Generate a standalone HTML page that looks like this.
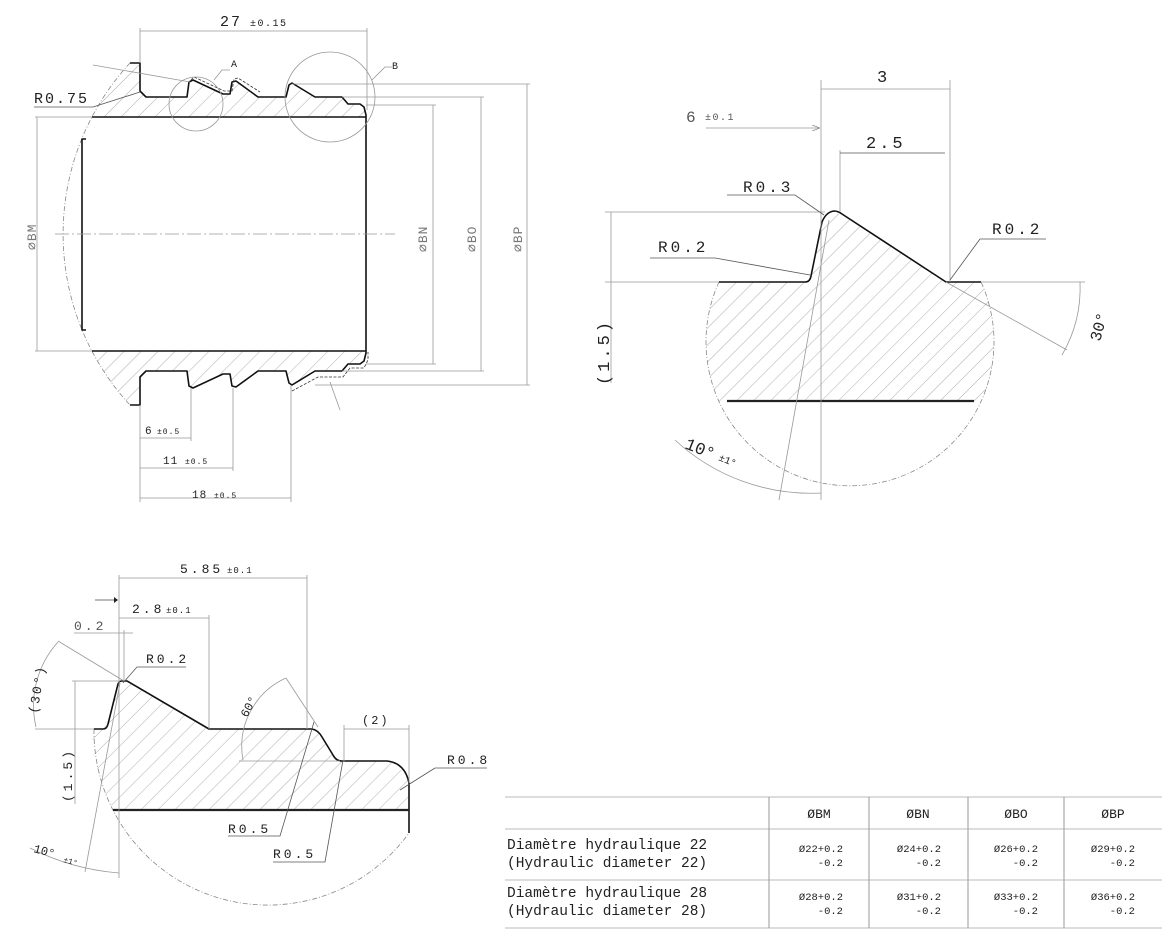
<!DOCTYPE html>
<html><head><meta charset="utf-8"><style>
html,body{margin:0;padding:0;background:#fff;}
svg{display:block;}
text{font-family:"Liberation Mono","DejaVu Sans Mono",monospace;fill:#222;}
.t{stroke:#111;stroke-width:1.6;fill:none;stroke-linejoin:round;}
.th{stroke:#222;stroke-width:2.2;fill:none;}
.d{stroke:#999;stroke-width:0.8;fill:none;}
.dk{stroke:#555;stroke-width:0.8;fill:none;}
.ds{stroke:#888;stroke-width:0.8;fill:none;stroke-dasharray:5 2 1 2;}
.cl{stroke:#999;stroke-width:0.8;fill:none;stroke-dasharray:14 3 2 3;}
</style></head><body>
<svg width="1167" height="940" viewBox="0 0 1167 940" xmlns="http://www.w3.org/2000/svg">
<defs>
<pattern id="h" patternUnits="userSpaceOnUse" width="12" height="12" patternTransform="rotate(45)">
<line x1="0" y1="0" x2="0" y2="12" stroke="#999" stroke-width="0.8"/>
</pattern>
<clipPath id="c1"><circle cx="315" cy="234" r="252"/></clipPath>
<clipPath id="c2"><circle cx="850" cy="343" r="144"/></clipPath>
<clipPath id="c3"><circle cx="266" cy="726" r="174"/></clipPath>
<marker id="ar" markerWidth="8" markerHeight="6" refX="8" refY="3" orient="auto" markerUnits="userSpaceOnUse"><path d="M0,0 L8,3 L0,6" fill="none" stroke="#888" stroke-width="0.8"/></marker>
</defs>

<!-- ===== MAIN PART ===== -->
<g clip-path="url(#c1)">
<path fill="url(#h)" d="M60,63 L140,63 L140,91 L146,97 L187,97 L189,82 L193,80 L223,94 L230,94 L232,82 L236,81 L258,97 L286,97 L289,85 L292,83 L315,97 L342,97 L348,104 L360,104 L364,107 L366,115 L366,117 L60,117 Z"/>
<path fill="url(#h)" d="M60,405 L140,405 L140,377 L146,371 L187,371 L189,386 L193,388 L223,374 L230,374 L232,386 L236,387 L258,371 L286,371 L289,383 L292,385 L315,371 L342,371 L348,364 L360,364 L364,361 L366,353 L366,351 L60,351 Z"/>
</g>
<path class="ds" d="M130,63 A252,252 0 0 0 130,405"/>
<path class="t" d="M130,63 L140,63 L140,91 L146,97 L187,97 L189,82 L193,80 L223,94 L230,94 L232,82 L236,81 L258,97 L286,97 L289,85 L292,83 L315,97 L342,97 L348,104 L360,104 L364,107 L366,115 L366,353 L364,361 L360,364 L348,364 L342,371 L315,371 L292,385 L289,383 L286,371 L258,371 L236,387 L232,386 L230,374 L223,374 L193,388 L189,386 L187,371 L146,371 L140,377 L140,405 L130,405"/>
<line class="t" x1="92" y1="117" x2="366" y2="117"/>
<line class="t" x1="92" y1="351" x2="366" y2="351"/>
<path class="t" d="M86,139 L82,139 L82,330 L86,330"/>
<line class="cl" x1="55" y1="234" x2="395" y2="234"/>
<path d="M191,80 L194,77 L224,91 L232,91 L234,79 L238,78 L260,92" stroke="#333" stroke-width="0.8" fill="none" stroke-dasharray="3 1.5"/>
<path d="M292,391 L318,377 L343,377 L350,368 L364,368 L368,360 L368,352" stroke="#333" stroke-width="0.8" fill="none" stroke-dasharray="3 1.5"/>
<circle class="d" cx="196" cy="104" r="27"/>
<circle class="d" cx="330" cy="97" r="45"/>
<path class="d" d="M214,80 L222,70 L230,70"/>
<text x="231" y="67" font-size="10">A</text>
<path class="d" d="M372,80 L385,67 L392,67"/>
<text x="392" y="69" font-size="10">B</text>
<line class="d" x1="93" y1="65" x2="190" y2="82"/>
<line class="d" x1="340" y1="410" x2="330" y2="382"/>
<text x="34" y="103" font-size="15" letter-spacing="2">R0.75</text>
<path class="dk" d="M34,107 L93,107 L140,92"/>
<line class="d" x1="140" y1="31" x2="367" y2="31"/>
<line class="d" x1="140" y1="28" x2="140" y2="63"/>
<line class="d" x1="367" y1="28" x2="367" y2="110"/>
<text x="220" y="26" font-size="15" letter-spacing="2">27</text>
<text x="250" y="26" font-size="10" letter-spacing="1.5">±0.15</text>
<line class="d" x1="37" y1="117" x2="37" y2="351"/>
<line class="d" x1="35" y1="117" x2="92" y2="117"/>
<line class="d" x1="35" y1="351" x2="92" y2="351"/>
<text transform="translate(36,250) rotate(-90)" font-size="13" style="fill:#777" letter-spacing="1">⌀BM</text>
<line class="d" x1="433" y1="105" x2="433" y2="364"/>
<line class="d" x1="366" y1="105" x2="436" y2="105"/>
<line class="d" x1="366" y1="364" x2="436" y2="364"/>
<text transform="translate(427,252) rotate(-90)" font-size="13" style="fill:#777" letter-spacing="1">⌀BN</text>
<line class="d" x1="481" y1="97" x2="481" y2="371"/>
<line class="d" x1="342" y1="97" x2="484" y2="97"/>
<line class="d" x1="342" y1="371" x2="484" y2="371"/>
<text transform="translate(476,252) rotate(-90)" font-size="13" style="fill:#777" letter-spacing="1">⌀BO</text>
<line class="d" x1="527" y1="84" x2="527" y2="385"/>
<line class="d" x1="292" y1="84" x2="530" y2="84"/>
<line class="d" x1="315" y1="385" x2="530" y2="385"/>
<text transform="translate(522,252) rotate(-90)" font-size="13" style="fill:#777" letter-spacing="1">⌀BP</text>
<line class="d" x1="140" y1="405" x2="140" y2="502"/>
<line class="d" x1="191" y1="388" x2="191" y2="441"/>
<line class="d" x1="233" y1="388" x2="233" y2="471"/>
<line class="d" x1="291" y1="385" x2="291" y2="502"/>
<line class="d" x1="140" y1="438" x2="191" y2="438"/>
<line class="d" x1="140" y1="468" x2="233" y2="468"/>
<line class="d" x1="140" y1="498" x2="291" y2="498"/>
<text x="145" y="434" font-size="11">6</text><text x="157" y="434" font-size="8" letter-spacing="1">±0.5</text>
<text x="163" y="464" font-size="11" letter-spacing="1">11</text><text x="185" y="464" font-size="8" letter-spacing="1">±0.5</text>
<text x="192" y="498" font-size="11" letter-spacing="1">18</text><text x="214" y="498" font-size="8" letter-spacing="1">±0.5</text>

<!-- ===== DETAIL B ===== -->
<g clip-path="url(#c2)">
<path fill="url(#h)" d="M700,282 L805,282 L810,278 L822,222 L828,213 L836,212 L946,282 L1000,282 L1000,401 L700,401 Z"/>
</g>
<path class="ds" d="M719,282 A144,144 0 1 0 981,282"/>
<path class="t" d="M719,282 L805,282 Q810,282 811,276 L822,222 Q826,212 834,211 Q838,211 842,214 L946,282 L981,282" stroke-width="1.8"/>
<line class="th" x1="727" y1="401" x2="974" y2="401"/>
<line class="d" x1="821" y1="80" x2="821" y2="500"/>
<line class="d" x1="950" y1="80" x2="950" y2="282"/>
<line class="d" x1="821" y1="89" x2="950" y2="89"/>
<text x="877" y="82" font-size="17">3</text>
<text x="686" y="122" font-size="16" style="fill:#555">6</text><text x="705" y="120" font-size="10" style="fill:#555" letter-spacing="1.5">±0.1</text>
<line class="d" x1="706" y1="128" x2="820" y2="128" marker-end="url(#ar)"/>
<line class="d" x1="840" y1="150" x2="840" y2="212"/>
<line class="dk" x1="840" y1="153" x2="945" y2="153"/>
<text x="866" y="148" font-size="17" letter-spacing="3">2.5</text>
<line class="d" x1="605" y1="212" x2="825" y2="212"/>
<line class="d" x1="605" y1="282" x2="719" y2="282"/>
<line class="d" x1="981" y1="282" x2="1085" y2="282"/>
<line class="d" x1="611" y1="212" x2="611" y2="383"/>
<text transform="translate(609,385) rotate(-90)" font-size="17" letter-spacing="3">(1.5)</text>
<text x="743" y="192" font-size="16" letter-spacing="3">R0.3</text>
<path class="dk" d="M727,195 L795,195 L824,215"/>
<text x="658" y="252" font-size="16" letter-spacing="3">R0.2</text>
<path class="dk" d="M650,258 L715,258 L810,275"/>
<text x="992" y="234" font-size="16" letter-spacing="3">R0.2</text>
<path class="dk" d="M980,239 L1046,239 M980,239 L950,280"/>
<line class="d" x1="946" y1="282" x2="1067" y2="350"/>
<path class="d" d="M1080,282 A133,133 0 0 1 1062,355"/>
<text transform="translate(1100,342) rotate(-75)" font-size="16">30°</text>
<line class="d" x1="829" y1="220" x2="779" y2="500"/>
<path class="d" d="M675,440 A200,200 0 0 0 821,493"/>
<text transform="translate(684,448) rotate(22)" font-size="17">10°</text>
<text transform="translate(718,460) rotate(22)" font-size="10">±1°</text>

<!-- ===== DETAIL A ===== -->
<g clip-path="url(#c3)">
<path fill="url(#h)" d="M80,729 L103,729 L107,724 L118,684 L122,681 L127,681 L209,729 L312,729 L318,733 L333,755 L340,761 L387,761 L400,767 L409,783 L409,810 L80,810 Z"/>
</g>
<path class="ds" d="M94,729 A174,174 0 0 0 409,833"/>
<path class="t" d="M94,729 L103,729 Q107,729 108,724 L118,684 Q119,681 122,681 L127,681 L209,729 L312,729 Q318,730 322,737 L333,755 Q336,761 342,761 L387,761 Q405,763 409,783 L409,833" stroke-width="1.6"/>
<line class="th" x1="113" y1="810" x2="409" y2="810"/>
<line class="d" x1="119" y1="575" x2="119" y2="878"/>
<line class="d" x1="124" y1="630" x2="124" y2="681"/>
<line class="d" x1="307" y1="575" x2="307" y2="729"/>
<line class="d" x1="209" y1="615" x2="209" y2="729"/>
<line class="d" x1="119" y1="578" x2="307" y2="578"/>
<text x="180" y="573" font-size="13" letter-spacing="3">5.85</text><text x="227" y="573" font-size="9" letter-spacing="1">±0.1</text>
<line class="d" x1="119" y1="618" x2="209" y2="618"/>
<text x="132" y="613" font-size="13" letter-spacing="3">2.8</text><text x="166" y="613" font-size="9" letter-spacing="1">±0.1</text>
<line x1="95" y1="600" x2="114" y2="600" stroke="#444" stroke-width="0.8"/>
<path d="M114,597 L118,600 L114,603 Z" fill="#222"/>
<line class="d" x1="74" y1="633" x2="133" y2="633"/>
<text x="74" y="630" font-size="13" letter-spacing="3" style="fill:#555">0.2</text>
<text x="146" y="663" font-size="13" letter-spacing="3">R0.2</text>
<path class="dk" d="M146,667 L186,667 M146,667 L137,667 L123,683"/>
<line class="d" x1="58" y1="641" x2="124" y2="681"/>
<line class="d" x1="35" y1="729" x2="94" y2="729"/>
<path class="d" d="M36,727 A95,95 0 0 1 58,642"/>
<text transform="translate(37,714) rotate(-80)" font-size="13" letter-spacing="2">(30°)</text>
<line class="d" x1="72" y1="681" x2="120" y2="681"/>
<line class="d" x1="75" y1="681" x2="75" y2="804"/>
<text transform="translate(72,802) rotate(-90)" font-size="13" letter-spacing="3">(1.5)</text>
<line class="d" x1="239" y1="761" x2="340" y2="761"/>
<line class="d" x1="286" y1="678" x2="318" y2="727"/>
<path class="d" d="M243,760 A75,75 0 0 1 286,678"/>
<text transform="translate(247,718) rotate(-62)" font-size="12">60°</text>
<line class="d" x1="344" y1="725" x2="344" y2="762"/>
<line class="d" x1="409" y1="725" x2="409" y2="783"/>
<line class="d" x1="344" y1="729" x2="409" y2="729"/>
<text x="362" y="724" font-size="12" letter-spacing="2">(2)</text>
<text x="447" y="764" font-size="13" letter-spacing="3">R0.8</text>
<path class="dk" d="M435,768 L487,768 M435,768 L400,790"/>
<text x="228" y="833" font-size="13" letter-spacing="3">R0.5</text>
<path class="dk" d="M228,836 L280,836 L314,722"/>
<text x="273" y="858" font-size="13" letter-spacing="3">R0.5</text>
<path class="dk" d="M273,862 L325,862 L343,760"/>
<line class="d" x1="120" y1="683" x2="85" y2="872"/>
<path class="d" d="M30,848 A240,240 0 0 0 119,873"/>
<text transform="translate(33,852) rotate(15)" font-size="12">10°</text>
<text transform="translate(63,862) rotate(15)" font-size="8">±1°</text>

<!-- ===== TABLE ===== -->
<g stroke="#bbb" stroke-width="1" fill="none">
<line x1="505" y1="797" x2="1162" y2="797"/>
<line x1="505" y1="829" x2="1162" y2="829"/>
<line x1="505" y1="880" x2="1162" y2="880"/>
<line x1="505" y1="928" x2="1162" y2="928"/>
</g>
<g stroke="#999" stroke-width="1">
<line x1="769" y1="797" x2="769" y2="928"/>
<line x1="869" y1="797" x2="869" y2="928"/>
<line x1="968" y1="797" x2="968" y2="928"/>
<line x1="1064" y1="797" x2="1064" y2="928"/>
</g>
<g font-size="13" text-anchor="middle">
<text x="819" y="818">ØBM</text><text x="918" y="818">ØBN</text><text x="1016" y="818">ØBO</text><text x="1113" y="818">ØBP</text>
</g>
<text x="507" y="849" font-size="14.5">Diamètre hydraulique 22</text>
<text x="507" y="867" font-size="14.5">(Hydraulic diameter 22)</text>
<text x="507" y="897" font-size="14.5">Diamètre hydraulique 28</text>
<text x="507" y="915" font-size="14.5">(Hydraulic diameter 28)</text>
<g font-size="10.5" text-anchor="end">
<text x="843" y="852">Ø22+0.2</text><text x="843" y="866">-0.2</text>
<text x="941" y="852">Ø24+0.2</text><text x="941" y="866">-0.2</text>
<text x="1038" y="852">Ø26+0.2</text><text x="1038" y="866">-0.2</text>
<text x="1135" y="852">Ø29+0.2</text><text x="1135" y="866">-0.2</text>
<text x="843" y="900">Ø28+0.2</text><text x="843" y="914">-0.2</text>
<text x="941" y="900">Ø31+0.2</text><text x="941" y="914">-0.2</text>
<text x="1038" y="900">Ø33+0.2</text><text x="1038" y="914">-0.2</text>
<text x="1135" y="900">Ø36+0.2</text><text x="1135" y="914">-0.2</text>
</g>
</svg>
</body></html>
